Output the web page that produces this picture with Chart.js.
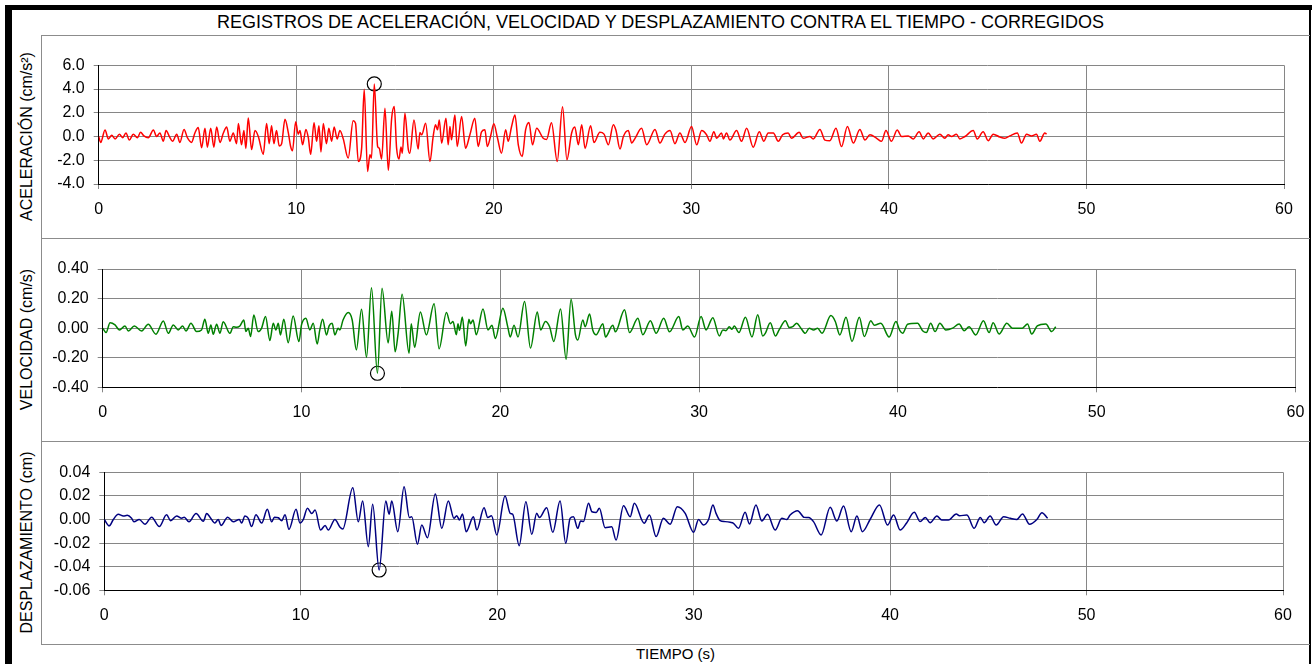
<!DOCTYPE html>
<html>
<head>
<meta charset="utf-8">
<script src="https://cdn.jsdelivr.net/npm/chart.js@4.4.1/dist/chart.umd.min.js"></script>
<style>
body{margin:0;background:#fff;width:1314px;height:664px;overflow:hidden;position:relative;font-family:"Liberation Sans",Arial,sans-serif;color:#000}
.a{position:absolute}
.blk{position:absolute;background:#000}
.gry{position:absolute;background:#8c8c8c}
.ytitle{position:absolute;width:203px;height:29px;line-height:29px;text-align:center;font-size:16px;transform:rotate(-90deg);white-space:nowrap}
canvas{position:absolute;left:41px}
</style>
</head>
<body>
<div class="blk" style="left:5px;top:5px;width:7px;height:659px"></div>
<div class="blk" style="left:5px;top:5px;width:1307px;height:5px"></div>
<div class="blk" style="left:1309px;top:5px;width:2px;height:659px"></div>
<div class="gry" style="left:41px;top:35px;width:1269px;height:1px"></div>
<div class="gry" style="left:41px;top:238px;width:1269px;height:1px"></div>
<div class="gry" style="left:41px;top:441px;width:1269px;height:1px"></div>
<div class="gry" style="left:41px;top:644px;width:1269px;height:1px"></div>
<div class="gry" style="left:41px;top:35px;width:1px;height:610px"></div>

<div class="a" style="left:12px;top:10px;width:1297px;height:25px;line-height:25px;text-align:center;font-size:18px;white-space:nowrap">REGISTROS DE ACELERACIÓN, VELOCIDAD Y DESPLAZAMIENTO CONTRA EL TIEMPO - CORREGIDOS</div>
<div class="ytitle" style="left:-75px;top:122px">ACELERACIÓN (cm/s²)</div>
<div class="ytitle" style="left:-75px;top:325px">VELOCIDAD (cm/s)</div>
<div class="ytitle" style="left:-75px;top:528px">DESPLAZAMIENTO (cm)</div>
<div class="a" style="left:41px;top:644px;width:1269px;height:20px;line-height:20px;text-align:center;font-size:15px">TIEMPO (s)</div>

<canvas id="acc" width="1269" height="203" style="top:35px"></canvas>
<canvas id="vel" width="1269" height="203" style="top:238px"></canvas>
<canvas id="disp" width="1269" height="203" style="top:441px"></canvas>

<script>
// ticks
const timeTicks = [0, 10, 20, 30, 40, 50, 60];
const accTicks = [-4, -2, 0, 2, 4, 6];
const velTicks = [-0.4, -0.2, 0, 0.2, 0.4];
const dispTicks = [-0.06, -0.04, -0.02, 0, 0.02, 0.04];

// acceleration (cm/s2), read at peaks and troughs
const accTime = [0, 0.1, 0.32, 0.49, 0.66, 0.83, 1.05, 1.21, 1.38, 1.55, 1.75, 1.96, 2.12, 2.29, 2.51, 2.77, 2.93, 3.1, 3.27, 3.41, 3.58, 3.74, 3.95, 4.11, 4.32, 4.49, 4.7, 4.87, 5.04, 5.21, 5.38, 5.5, 5.67, 5.83, 5.97, 6.14, 6.31, 6.48, 6.64, 6.81, 6.98, 7.07, 7.23, 7.35, 7.45, 7.57, 7.74, 7.91, 8.08, 8.33, 8.5, 8.63, 8.75, 8.87, 9.0, 9.14, 9.26, 9.43, 9.6, 9.71, 9.81, 9.97, 10.1, 10.19, 10.32, 10.49, 10.61, 10.73, 10.9, 11.03, 11.15, 11.25, 11.37, 11.53, 11.65, 11.79, 11.92, 12.07, 12.21, 12.38,
  12.63, 12.88, 13.0, 13.14, 13.31, 13.44, 13.61, 13.73, 13.81, 13.95, 14.12, 14.2, 14.32, 14.49, 14.66, 14.83, 14.96, 15.08, 15.2, 15.3, 15.37, 15.5, 15.67, 15.75, 15.96, 16.17, 16.26, 16.35, 16.55, 16.77, 16.93, 17.05, 17.15, 17.24, 17.36, 17.58, 17.69, 17.78, 17.86, 18.03, 18.15, 18.37, 18.57, 18.79, 19.04, 19.21, 19.38, 19.55, 19.67, 19.84, 20.0, 20.19, 20.39, 20.6, 20.73, 20.9, 21.07, 21.24, 21.44, 21.61, 21.78, 21.96, 22.17, 22.5, 22.67, 22.92, 23.21, 23.48,
  23.7, 23.94, 24.1, 24.28, 24.45, 24.62, 24.9, 25.07, 25.37, 25.58, 25.8, 26.05, 26.18, 26.39, 26.56, 26.81, 26.98, 27.15, 27.48, 27.74, 28.16, 28.41, 28.66, 28.92, 29.17, 29.42, 29.68, 30.01, 30.27, 30.52, 30.77, 30.94, 31.14, 31.28, 31.53, 31.62, 31.78, 31.95, 32.29, 32.54, 32.8, 33.13, 33.44, 33.67, 33.89, 34.15, 34.4, 34.62, 34.9, 35.07, 35.46, 35.66, 36.0, 36.17, 36.51, 36.76, 37.01, 37.32, 37.6, 37.9, 38.2, 38.53, 38.79, 39.04, 39.38, 39.63, 39.85, 40.13, 40.42, 40.64, 40.98, 41.23, 41.53, 41.74, 41.99, 42.24, 42.58, 42.83, 43.0, 43.17, 43.42, 43.59, 43.85, 44.27, 44.47, 44.77, 45.03, 45.28, 45.62, 45.87, 46.12, 46.5, 46.71, 46.97, 47.22, 47.47, 47.64, 47.89, 47.98];
const accValue = [0, -0.5, 0.55, -0.2, 0.1, -0.2, 0.2, -0.1, 0.3, -0.3, 0.2, -0.1, 0.35, 0.05, -0.1, 0.55, 0.0, 0.3, -0.4, 0.5, 0.0, -0.4, 0.2, -0.5, 0.6, -0.1, -0.5, 0.3, 0.75, -0.95, 0.7, -0.9, 0.7, -0.9, 0.8, -0.5, 0.3, 0.8, -0.4, 0.3, -0.6, 1.1, -0.7, 0.5, -1.0, 1.55, -1.1, 0.5, 0.0, -1.5, 1.1, -0.6, 0.9, -0.6, 0.5, -0.8, -0.6, 1.45, 0.3, -0.8, -1.2, 1.25, 0.2, 0.5, -0.7, 0.6, -0.1, -1.5, 1.15, -0.4, 0.9, -1.3, 1.1, -0.6, 0.7, -0.4, 0.8, -0.2, 0.5, -0.2,
  -1.82, 1.32, 1.12, -2.1, -0.98, 3.98, -2.94, -1.54, -1.82, 4.43, -0.84, -0.98, -1.9, 2.38, -2.85, 1.54, 2.52, -0.98, -1.9, -0.89, -1.4, 1.96, -1.06, -1.4, 1.4, -1.06, 0.34, 0.14, 1.12, -2.1, 0.0, 1.0, 0.56, 1.4, -0.56, 1.54, -0.7, 0.84, -0.28, 1.82, -0.84, 1.68, -0.98, 0.15, 1.54, -0.84, 0.4, 0.56, -0.84, 0.05, 1.07, -0.15, -1.4, 0.56, -0.4, 0.84, 1.82, -0.7, -1.68, 0.56, 1.18, -0.7, 0.7, -0.15, -0.25, 1.15, -2.1, 2.5,
  -1.96, 0.3, 0.8, -0.7, 1.0, -1.0, 0.9, -0.5, 0.35, 0.2, -0.7, 1.0, 0.55, -1.05, 0.0, 0.5, -0.55, -0.15, 0.7, -0.7, 0.6, -0.55, 0.2, 0.5, -0.6, 0.3, -0.5, 0.85, -0.7, 0.5, 0.15, -0.4, 0.4, -0.15, 0.3, -0.2, 0.3, -0.3, 0.5, -0.4, 0.7, -0.9, 0.4, -0.4, 0.3, 0.3, -0.4, 0.15, 0.3, -0.15, 0.35, -0.15, 0.0, -0.2, 0.6, -0.3, -0.35, 0.7, -0.85, 0.85, -0.55, 0.6, -0.3, 0.15, -0.15, -0.4, 0.5, -0.4, 0.55, 0.0, 0.05, -0.2, 0.4, -0.2, 0.3, -0.2, 0.2, -0.15, 0.15, 0.0, 0.2, -0.2, 0.0, 0.5, -0.2, 0.4, -0.35, 0.2, -0.05, -0.15, 0.05, 0.3, -0.55, 0.2, 0.05, 0.2, -0.4, 0.3, 0.2];

// velocity (cm/s)
const velTime = [0, 0.17, 0.37, 0.62, 0.84, 1.12, 1.29, 1.59, 1.96, 2.29, 2.68, 3.05, 3.3, 3.55, 3.8, 4.02, 4.19, 4.44, 4.72, 4.97, 5.14, 5.31, 5.44, 5.56, 5.73, 5.9, 6.06, 6.4, 6.57, 6.73, 6.9, 7.1, 7.2, 7.32, 7.44, 7.6, 7.82, 7.99, 8.19, 8.41, 8.58, 8.71, 8.83, 8.94, 9.11, 9.33, 9.58, 9.87, 10.0, 10.22, 10.42, 10.59, 10.79, 10.92, 11.06, 11.26, 11.39, 11.54, 11.68, 11.84, 11.93, 12.09, 12.35, 12.55, 12.76, 13.02, 13.27, 13.52, 13.82,
  14.05, 14.36, 14.54, 14.71, 14.86, 15.06, 15.41, 15.52, 15.69, 15.98, 16.28, 16.67, 16.92, 17.29, 17.49, 17.62, 17.79, 17.87, 17.95, 18.09, 18.26, 18.42, 18.5, 18.63, 18.79, 19.13, 19.38, 19.58, 19.75, 20.13, 20.38, 20.5, 20.69, 20.89, 21.22, 21.52, 21.86, 22.03, 22.27, 22.48, 22.69, 23.03, 23.31, 23.56, 23.78, 23.9, 24.15, 24.27, 24.49, 24.65, 24.82, 25.16, 25.29, 25.66, 25.79, 26.25, 26.5, 26.92, 27.17, 27.55, 27.84, 28.22, 28.51, 28.98, 29.18, 29.43, 29.77,
  30.1, 30.35, 30.69, 31.02, 31.19, 31.35, 31.52, 31.65, 31.77, 32.0, 32.33, 32.66, 32.95, 33.2, 33.33, 33.58, 33.84, 34.04, 34.34, 34.54, 34.71, 34.91, 35.12, 35.34, 35.54, 35.76, 35.96, 36.18, 36.63, 36.85, 37.08, 37.39, 37.69, 38.06, 38.31, 38.64, 38.81, 39.14, 39.56, 39.9, 40.1, 40.24, 40.49, 40.99, 41.24, 41.43, 41.65, 41.87, 42.11, 42.41, 42.75, 43.08, 43.33, 43.58, 43.92, 44.3, 44.59, 44.79, 45.09, 45.48, 45.76, 46.26, 46.52, 46.73, 47.01, 47.44, 47.74, 47.94];
const velValue = [0, -0.03, 0.037, 0.022, -0.012, 0.015, -0.019, 0.015, -0.019, 0.026, -0.041, 0.049, -0.035, 0.022, -0.012, 0.015, -0.019, 0.033, -0.023, -0.012, 0.06, -0.035, 0.022, -0.041, 0.026, -0.035, 0.044, -0.035, 0.01, 0.006, 0.015, 0.055, -0.023, -0.001, -0.057, 0.089, -0.023, -0.001, 0.078, -0.084, 0.033, -0.012, 0.033, -0.046, 0.06, -0.098, 0.082, -0.091, 0.022, 0.067, -0.012, 0.033, -0.107, -0.012, 0.06, -0.046, 0.015, 0.033, -0.046, -0.001, -0.012, 0.055, 0.105, 0.055, -0.147, 0.128, -0.197, 0.274, -0.305,
  0.27, -0.1, 0.115, -0.16, -0.035, 0.23, -0.17, 0.03, -0.13, 0.11, -0.045, 0.165, -0.14, 0.105, 0.03, 0.045, -0.045, 0.03, -0.015, 0.075, -0.12, 0.06, 0.03, 0.055, -0.045, 0.13, -0.012, 0.02, -0.07, 0.135, 0.005, -0.06, 0.02, -0.06, 0.18, -0.135, 0.11, -0.012, 0.045, 0.01, -0.09, 0.13, -0.21, 0.195, -0.045, -0.08, 0.055, 0.01, 0.095, -0.012, -0.045, 0.03, -0.06, 0.02, -0.025, 0.125, -0.03, 0.067, -0.045, 0.05, -0.035, 0.067, -0.025, 0.078, -0.012, 0.015, -0.06,
  0.078, -0.012, 0.07, -0.053, -0.012, -0.017, 0.01, -0.008, 0.015, -0.03, 0.073, -0.06, 0.09, -0.053, -0.035, 0.037, -0.053, -0.008, 0.05, 0.004, 0.01, 0.033, 0.0, -0.035, 0.0, -0.012, 0.0, -0.035, 0.085, 0.045, -0.046, 0.073, -0.09, 0.073, -0.057, 0.05, 0.02, 0.033, -0.06, 0.045, -0.017, -0.035, 0.026, 0.033, -0.017, -0.03, 0.033, -0.023, 0.033, -0.012, 0.0, 0.028, -0.017, 0.01, -0.046, 0.05, -0.03, 0.037, -0.04, 0.033, 0.0, 0.0, 0.028, -0.04, 0.015, 0.028, -0.023, 0.01];

// displacement (cm)
const dispTime = [0, 0.25, 0.46, 0.71, 0.97, 1.17, 1.39, 1.51, 1.78, 2.07, 2.41, 2.8, 3.17, 3.38, 3.68, 3.94, 4.07, 4.31, 4.67, 5.04, 5.21, 5.38, 5.63, 5.8, 5.94, 6.28, 6.57, 6.87, 6.99, 7.16, 7.33, 7.5, 7.72, 8.01, 8.3, 8.52, 8.66, 8.86, 9.03, 9.2, 9.4, 9.76, 9.96, 10.13, 10.34, 10.56, 10.73, 11.01, 11.24, 11.4, 11.74, 12.0, 12.14,
  12.65, 12.93, 13.15, 13.44, 13.66, 13.99, 14.33, 14.5, 14.63, 14.94, 15.26, 15.53, 15.65, 15.94, 16.16, 16.45, 16.85, 17.18, 17.51, 17.8, 17.94, 18.08, 18.23, 18.42, 18.79, 18.96, 19.33, 19.52, 19.71, 19.98, 20.4, 20.66, 20.79, 21.12, 21.46, 21.76, 22.01, 22.15, 22.52, 22.83, 23.2, 23.49, 23.71, 23.88, 24.1, 24.25, 24.39, 24.65, 24.82, 25.04, 25.2, 25.49, 25.83, 26.05, 26.43, 26.77, 26.98, 27.48, 27.75, 28.09, 28.46, 28.8, 29.17, 29.57, 30.0,
  30.25, 30.5, 30.76, 30.98, 31.14, 31.35, 31.6, 31.86, 32.03, 32.28, 32.62, 32.84, 33.17, 33.47, 33.76, 34.15, 34.49, 34.74, 34.91, 35.29, 35.63, 35.85, 36.1, 36.49, 36.95, 37.29, 37.63, 38.02, 38.31, 38.59, 38.98, 39.46, 39.87, 40.18, 40.51, 40.85, 41.23, 41.53, 41.79, 42.04, 42.38, 42.63, 42.97, 43.37, 43.53, 43.91, 44.28, 44.59, 44.79, 45.09, 45.4, 45.78, 46.12, 46.45, 46.74, 47.1, 47.47, 47.73, 48.02];
const dispValue = [0, -0.0054, 0, 0.0044, 0.003, 0.0035, 0.001, -0.002, 0, -0.004, 0.002, -0.006, 0.004, -0.001, 0.003, 0.001, 0.002, -0.002, 0.005, -0.0015, 0.005, 0.002, -0.003, 0, -0.005, 0.002, -0.002, 0, -0.003, 0.003, 0.001, -0.006, 0.004, -0.003, 0.0086, -0.002, 0.002, 0.0015, -0.001, 0.004, -0.0083, 0.0086, -0.003, 0, 0.0095, 0.005, 0.008, -0.009, -0.005, -0.009, 0, -0.0066, -0.008,
  0.027, -0.002, 0.0157, -0.023, 0.013, -0.0428, 0.0157, 0.0044, 0.0157, -0.0103, 0.0278, 0.0016, 0.0024, -0.021, -0.0047, -0.0154, 0.0216, -0.0075, 0.0157, 0.001, 0.0032, -0.0004, 0.0047, -0.0103, 0.0024, -0.0089, 0.01, 0.0016, 0.0032, -0.0131, 0.0199, 0.0052, 0.0044, -0.0222, 0.0151, -0.0126, 0.0052, 0.0016, 0.01, -0.0109, 0.0157, -0.0202, 0.001, 0.0024, -0.0075, -0.0013, -0.0018, 0.0137, 0.0066, 0.006, 0.0095, -0.0069, -0.0061, -0.0174, 0.0117, 0.0024, 0.0137, -0.0032, 0.0038, -0.0145, 0.001, -0.004, 0.0109, 0.0052, -0.0109,
  0, -0.0047, 0, 0.0123, 0.0052, -0.001, -0.0018, -0.0024, -0.0032, -0.0075, 0.0061, -0.0038, 0.0123, -0.0013, 0.0044, -0.0089, 0.001, 0, 0.0038, 0.0075, 0.0018, 0.0016, -0.0018, -0.0131, 0.0103, -0.0013, 0.0114, -0.0103, 0.003, -0.0103, 0, 0.0123, -0.0047, 0.0038, -0.0089, -0.0027, 0.0061, -0.0018, 0.0018, -0.0027, 0.003, -0.0004, -0.0004, 0.0047, 0.0032, 0.0038, -0.0075, 0.0018, -0.0027, 0.003, -0.0047, 0.0024, 0.001, 0, 0.0047, -0.0041, 0, 0.0058, 0.001];

const FONT = '"Liberation Sans", Arial, sans-serif';
const GRID = '#868686';
const CLEAR = 'rgba(0,0,0,0)';


function makePanel(id, time, value, color, yTicks, dec, g){

const pts = time.map((t, i) => ({x: t, y: value[i]}));

// circle on the largest absolute value
let k = 0;
value.forEach((v, i) => { if (Math.abs(v) > Math.abs(value[k])) k = i; });

const yMin = yTicks[0];
const yMax = yTicks[yTicks.length - 1];

new Chart(document.getElementById(id), {
type: 'line',
data: {
datasets: [{
data: pts,
borderColor: color,
borderWidth: 1.5,
pointRadius: 0,
fill: false,
cubicInterpolationMode: 'monotone'
}, {
type: 'scatter',
data: [pts[k]],
pointRadius: 7,
pointBorderColor: '#000',
pointBorderWidth: 1.2,
pointBackgroundColor: CLEAR,
showLine: false
}]
},
options: {
responsive: false,
animation: false,
devicePixelRatio: 1,
events: [],
layout: {padding: {left: 0, top: g.padTop, right: g.padRight, bottom: 0}},
plugins: {legend: {display: false}, tooltip: {enabled: false}},
scales: {
x: {
type: 'linear',
min: timeTicks[0],
max: timeTicks[timeTicks.length - 1],
afterBuildTicks: s => { s.ticks = timeTicks.map(v => ({value: v})); },
afterFit: s => { s.height = g.xH; s.paddingLeft = 0; s.paddingRight = 0; },
grid: {
color: c => (c.tick && c.tick.value === timeTicks[0]) ? CLEAR : GRID,
tickColor: GRID,
tickLength: 5,
lineWidth: 1
},
border: {color: '#000', width: 1},
ticks: {color: '#000', font: {family: FONT, size: 16}, padding: 11, maxRotation: 0, autoSkip: false}
},
y: {
min: yMin,
max: yMax,
afterBuildTicks: s => { s.ticks = yTicks.map(v => ({value: v})); },
afterFit: s => { s.width = g.yW; s.paddingTop = 0; s.paddingBottom = 0; },
grid: {
color: c => (c.tick && c.tick.value === yMin) ? CLEAR : GRID,
tickColor: GRID,
tickLength: 5,
lineWidth: 1
},
border: {color: '#000', width: 1},
ticks: {color: '#000', font: {family: FONT, size: 16}, padding: 9, autoSkip: false, callback: v => v.toFixed(dec)}
}
}
}
});

}


makePanel('acc', accTime, accValue, '#ff0000', accTicks, 1, {yW: 57.7, padTop: 30.3, padRight: 26, xH: 54});
makePanel('vel', velTime, velValue, '#008000', velTicks, 2, {yW: 61.7, padTop: 31, padRight: 14.5, xH: 53.7});
makePanel('disp', dispTime, dispValue, '#000080', dispTicks, 2, {yW: 63.3, padTop: 31.3, padRight: 27, xH: 53.7});
</script>
</body>
</html>
